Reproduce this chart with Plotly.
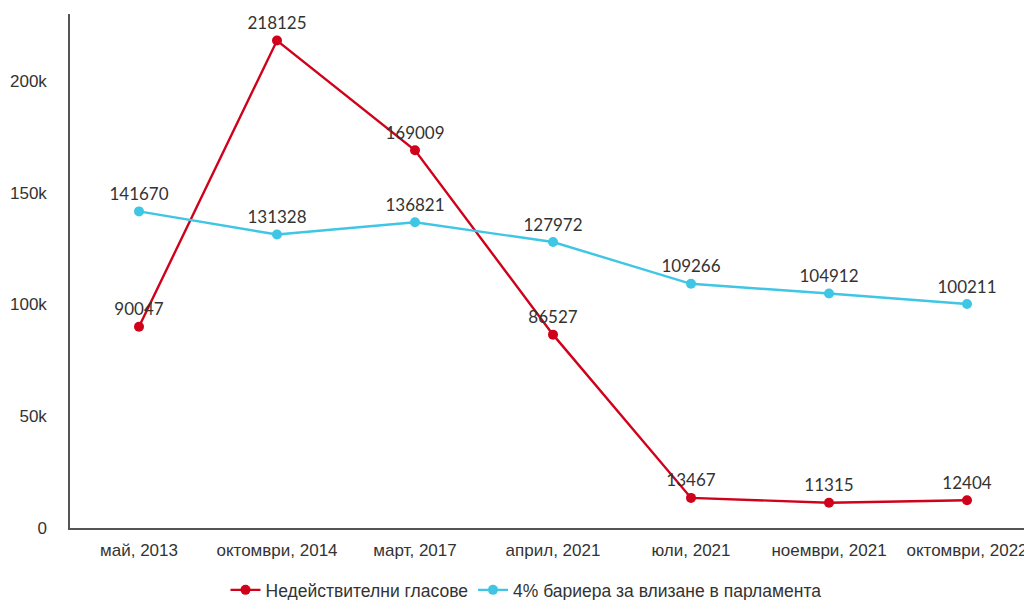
import plotly.graph_objects as go

categories = ["май, 2013", "октомври, 2014", "март, 2017", "април, 2021",
              "юли, 2021", "ноември, 2021", "октомври, 2022"]
invalid_votes = [90047, 218125, 169009, 86527, 13467, 11315, 12404]
threshold_4pct = [141670, 131328, 136821, 127972, 109266, 104912, 100211]
y_tickvals = [0, 50000, 100000, 150000, 200000]
y_ticktext = ["0", "50k", "100k", "150k", "200k"]

RED = "#d0021b"
CYAN = "#3ec6e4"
LABEL_FONT = dict(family="Lato", size=17, color="#333333")

fig = go.Figure()
fig.add_trace(go.Scatter(
    x=categories, y=invalid_votes, name="Недействителни гласове",
    mode="lines+markers+text", text=[str(v) for v in invalid_votes],
    textposition="top center", textfont=LABEL_FONT,
    line=dict(color=RED, width=2.4), marker=dict(color=RED, size=10),
))
fig.add_trace(go.Scatter(
    x=categories, y=threshold_4pct, name="4% бариера за влизане в парламента",
    mode="lines+markers+text", text=[str(v) for v in threshold_4pct],
    textposition="top center", textfont=LABEL_FONT,
    line=dict(color=CYAN, width=2.4), marker=dict(color=CYAN, size=10),
))

fig.update_layout(
    width=1024, height=600,
    margin=dict(l=70, r=0, t=14, b=72),
    paper_bgcolor="white", plot_bgcolor="white",
    font=dict(family="Liberation Sans, Arial, sans-serif", size=16, color="#333333"),
    showlegend=True,
    legend=dict(orientation="h", x=0.478, xanchor="center",
                yref="container", y=0.0167, yanchor="middle",
                font=dict(size=17.5, color="#333333"), itemwidth=30),
    xaxis=dict(type="category", range=[-0.5, 6.413], showgrid=False, zeroline=False,
               showline=True, linecolor="#555555", linewidth=1.5, ticks="",
               ticklabelstandoff=6,
               tickfont=dict(size=17, color="#333333"), automargin=False),
    yaxis=dict(range=[0, 230000], tickvals=y_tickvals, ticktext=y_ticktext,
               showgrid=False, zeroline=False, showline=True, linecolor="#555555",
               linewidth=1.5, ticks="", ticklabelstandoff=18,
               tickfont=dict(size=17, color="#333333"), automargin=False),
)

fig.write_html("out.html", config={"displayModeBar": False},
               post_script="document.body.style.margin='0';document.body.style.overflow='hidden';")
